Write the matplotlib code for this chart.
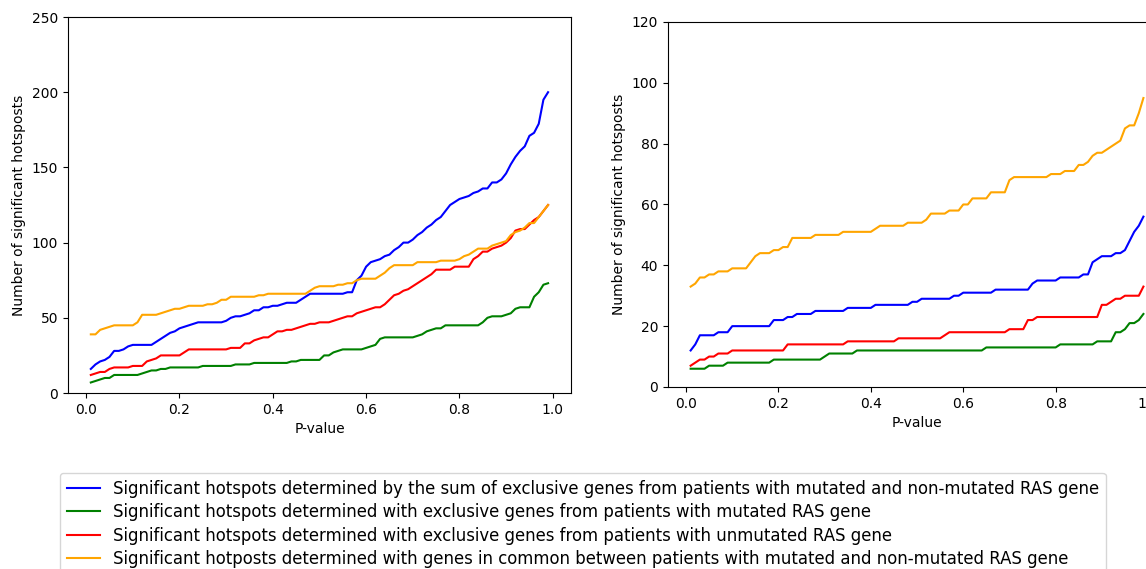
import matplotlib
matplotlib.use("Agg")
import matplotlib.pyplot as plt
import numpy as np

# P-value thresholds used on the x axis
p_values = np.linspace(0.01, 0.99, 99)

# Left panel: counts of significant hotspots per threshold
left_sum = [16, 19, 21, 22, 24, 28, 28, 29, 31, 32,
            32, 32, 32, 32, 34, 36, 38, 40, 41, 43,
            44, 45, 46, 47, 47, 47, 47, 47, 47, 48,
            50, 51, 51, 52, 53, 55, 55, 57, 57, 58,
            58, 59, 60, 60, 60, 62, 64, 66, 66, 66,
            66, 66, 66, 66, 66, 67, 67, 75, 78, 84,
            87, 88, 89, 91, 92, 95, 97, 100, 100, 102,
            105, 107, 110, 112, 115, 117, 121, 125, 127, 129,
            130, 131, 133, 134, 136, 136, 140, 140, 142, 146,
            152, 157, 161, 164, 171, 173, 179, 195, 200]
left_mutated = [7, 8, 9, 10, 10, 12, 12, 12, 12, 12,
                12, 13, 14, 15, 15, 16, 16, 17, 17, 17,
                17, 17, 17, 17, 18, 18, 18, 18, 18, 18,
                18, 19, 19, 19, 19, 20, 20, 20, 20, 20,
                20, 20, 20, 21, 21, 22, 22, 22, 22, 22,
                25, 25, 27, 28, 29, 29, 29, 29, 29, 30,
                31, 32, 36, 37, 37, 37, 37, 37, 37, 37,
                38, 39, 41, 42, 43, 43, 45, 45, 45, 45,
                45, 45, 45, 45, 47, 50, 51, 51, 51, 52,
                53, 56, 57, 57, 57, 64, 67, 72, 73]
left_unmutated = [12, 13, 14, 14, 16, 17, 17, 17, 17, 18,
                  18, 18, 21, 22, 23, 25, 25, 25, 25, 25,
                  27, 29, 29, 29, 29, 29, 29, 29, 29, 29,
                  30, 30, 30, 33, 33, 35, 36, 37, 37, 39,
                  41, 41, 42, 42, 43, 44, 45, 46, 46, 47,
                  47, 47, 48, 49, 50, 51, 51, 53, 54, 55,
                  56, 57, 57, 59, 62, 65, 66, 68, 69, 71,
                  73, 75, 77, 79, 82, 82, 82, 82, 84, 84,
                  84, 84, 89, 91, 94, 94, 96, 97, 98, 100,
                  103, 108, 109, 109, 112, 115, 117, 121, 125]
left_common = [39, 39, 42, 43, 44, 45, 45, 45, 45, 45,
               47, 52, 52, 52, 52, 53, 54, 55, 56, 56,
               57, 58, 58, 58, 58, 59, 59, 60, 62, 62,
               64, 64, 64, 64, 64, 64, 65, 65, 66, 66,
               66, 66, 66, 66, 66, 66, 66, 68, 70, 71,
               71, 71, 71, 72, 72, 73, 73, 75, 76, 76,
               76, 76, 78, 80, 83, 85, 85, 85, 85, 85,
               87, 87, 87, 87, 87, 88, 88, 88, 88, 89,
               91, 92, 94, 96, 96, 96, 98, 99, 100, 101,
               105, 107, 108, 110, 113, 113, 117, 121, 125]

# Right panel
right_sum = [12, 14, 17, 17, 17, 17, 18, 18, 18, 20,
             20, 20, 20, 20, 20, 20, 20, 20, 22, 22,
             22, 23, 23, 24, 24, 24, 24, 25, 25, 25,
             25, 25, 25, 25, 26, 26, 26, 26, 26, 26,
             27, 27, 27, 27, 27, 27, 27, 27, 28, 28,
             29, 29, 29, 29, 29, 29, 29, 30, 30, 31,
             31, 31, 31, 31, 31, 31, 32, 32, 32, 32,
             32, 32, 32, 32, 34, 35, 35, 35, 35, 35,
             36, 36, 36, 36, 36, 37, 37, 41, 42, 43,
             43, 43, 44, 44, 45, 48, 51, 53, 56]
right_mutated = [6, 6, 6, 6, 7, 7, 7, 7, 8, 8,
                 8, 8, 8, 8, 8, 8, 8, 8, 9, 9,
                 9, 9, 9, 9, 9, 9, 9, 9, 9, 10,
                 11, 11, 11, 11, 11, 11, 12, 12, 12, 12,
                 12, 12, 12, 12, 12, 12, 12, 12, 12, 12,
                 12, 12, 12, 12, 12, 12, 12, 12, 12, 12,
                 12, 12, 12, 12, 13, 13, 13, 13, 13, 13,
                 13, 13, 13, 13, 13, 13, 13, 13, 13, 13,
                 14, 14, 14, 14, 14, 14, 14, 14, 15, 15,
                 15, 15, 18, 18, 19, 21, 21, 22, 24]
right_unmutated = [7, 8, 9, 9, 10, 10, 11, 11, 11, 12,
                   12, 12, 12, 12, 12, 12, 12, 12, 12, 12,
                   12, 14, 14, 14, 14, 14, 14, 14, 14, 14,
                   14, 14, 14, 14, 15, 15, 15, 15, 15, 15,
                   15, 15, 15, 15, 15, 16, 16, 16, 16, 16,
                   16, 16, 16, 16, 16, 17, 18, 18, 18, 18,
                   18, 18, 18, 18, 18, 18, 18, 18, 18, 19,
                   19, 19, 19, 22, 22, 23, 23, 23, 23, 23,
                   23, 23, 23, 23, 23, 23, 23, 23, 23, 27,
                   27, 28, 29, 29, 30, 30, 30, 30, 33]
right_common = [33, 34, 36, 36, 37, 37, 38, 38, 38, 39,
                39, 39, 39, 41, 43, 44, 44, 44, 45, 45,
                46, 46, 49, 49, 49, 49, 49, 50, 50, 50,
                50, 50, 50, 51, 51, 51, 51, 51, 51, 51,
                52, 53, 53, 53, 53, 53, 53, 54, 54, 54,
                54, 55, 57, 57, 57, 57, 58, 58, 58, 60,
                60, 62, 62, 62, 62, 64, 64, 64, 64, 68,
                69, 69, 69, 69, 69, 69, 69, 69, 70, 70,
                70, 71, 71, 71, 73, 73, 74, 76, 77, 77,
                78, 79, 80, 81, 85, 86, 86, 90, 95]

labels = [
    "Significant hotspots determined by the sum of exclusive genes from patients with mutated and non-mutated RAS gene",
    "Significant hotspots determined with exclusive genes from patients with mutated RAS gene",
    "Significant hotspots determined with exclusive genes from patients with unmutated RAS gene",
    "Significant hotposts determined with genes in common between patients with mutated and non-mutated RAS gene",
]
colors = ["blue", "green", "red", "orange"]

fig = plt.figure(figsize=(11.46, 5.69), dpi=100)
ax1 = fig.add_axes([0.0593, 0.3093, 0.4389, 0.6608])
ax2 = fig.add_axes([0.5829, 0.3199, 0.4346, 0.6415])

left_series = [left_sum, left_mutated, left_unmutated, left_common]
right_series = [right_sum, right_mutated, right_unmutated, right_common]

for vals, c, lab in zip(left_series, colors, labels):
    ax1.plot(p_values, vals, color=c, label=lab)
for vals, c in zip(right_series, colors):
    ax2.plot(p_values, vals, color=c)

ax1.set_ylim(0, 250)
ax2.set_ylim(0, 120)

for ax in (ax1, ax2):
    ax.set_xlabel("P-value")
    ax.set_ylabel("Number of significant hotsposts")

fig.legend(loc="upper left", bbox_to_anchor=(60 / 1146, 1 - 473 / 569),
           fontsize=11.9, labelspacing=0.33, borderaxespad=0)

fig.savefig("out.png", dpi=100)
